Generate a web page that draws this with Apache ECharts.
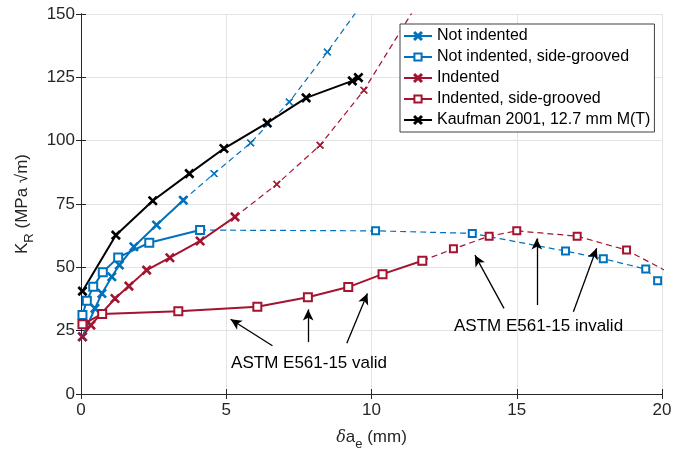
<!DOCTYPE html>
<html>
<head>
<meta charset="utf-8">
<script src="https://cdn.jsdelivr.net/npm/echarts@6/dist/echarts.min.js"></script>
<style>
html, body { margin: 0; padding: 0; background: #fff; }
#chart { width: 688px; height: 457px; }
</style>
</head>
<body>
<div id="chart"></div>
<script>
// measured points (mm, MPa√m)
var niX = [0.05, 0.48, 0.72, 1.06, 1.32, 1.82, 2.6, 3.52];
var niY = [22.6, 33.8, 39.7, 46.3, 50.9, 58.1, 66.7, 76.5];
var niDashX = [3.52, 4.58, 5.84, 7.17, 8.48, 9.8];
var niDashY = [76.5, 87, 99.1, 115.3, 135, 156];

var nisX = [0.05, 0.2, 0.42, 0.75, 1.28, 2.35, 4.1];
var nisY = [31.2, 36.8, 42.3, 48.1, 53.9, 59.7, 64.7];
var nisDashX = [4.1, 10.14, 13.47, 16.68, 17.98, 19.44, 19.85];
var nisDashY = [64.7, 64.4, 63.4, 56.4, 53.4, 49.3, 44.7];

var indX = [0.05, 0.34, 1.17, 1.65, 2.26, 3.06, 4.1, 5.3];
var indY = [22.6, 27.2, 37.7, 42.6, 48.9, 53.8, 60.4, 69.9];
var indDashX = [5.3, 6.74, 8.23, 9.74, 11.5];
var indDashY = [69.9, 82.8, 98.2, 119.9, 152.5];

var indsX = [0.05, 0.73, 3.35, 6.07, 7.81, 9.2, 10.38, 11.75];
var indsY = [27.5, 31.6, 32.7, 34.4, 38.2, 42.2, 47.3, 52.6];
var indsDashX = [11.75, 12.82, 14.05, 15.0, 17.08, 18.78, 20.4];
var indsDashY = [52.6, 57.3, 62.3, 64.4, 62.3, 56.8, 47];

var kaufX = [0.05, 1.2, 2.47, 3.73, 4.92, 6.41, 7.75, 9.34, 9.55];
var kaufY = [40.6, 62.7, 76.3, 87, 96.9, 107, 116.9, 123.6, 124.9];

var legendNames = ['Not indented', 'Not indented, side-grooved', 'Indented',
    'Indented, side-grooved', 'Kaufman 2001, 12.7 mm M(T)'];

// annotations: [x0, y0, x1, y1] arrow tail -> head
var validArrows = [[6.59, 19.05, 5.15, 29.5], [7.82, 20.5, 7.82, 33.4], [9.15, 20.0, 9.86, 39.7]];
var validText = ['ASTM E561-15 valid', 7.85, 12.2];
var invalidArrows = [[14.56, 33.8, 13.56, 54.8], [15.69, 35.1, 15.69, 61.4], [16.95, 32.5, 17.75, 57.5]];
var invalidText = ['ASTM E561-15 invalid', 15.75, 26.8];

var BLUE = '#0072BD', RED = '#A2142F', BLACK = '#000000';
var FONT = 'Liberation Sans';
var xMark = 'path://M0,1L1,0L5,4L9,0L10,1L6,5L10,9L9,10L5,6L1,10L0,9L4,5Z';

function pairs(xs, ys) {
    return xs.map(function (x, i) { return [x, ys[i]]; });
}

function solid(name, xs, ys, color, sym) {
    return {
        name: name, type: 'line', data: pairs(xs, ys),
        symbol: sym, symbolSize: 8,
        showAllSymbol: true,
        lineStyle: { color: color, width: 2 },
        itemStyle: { color: color, borderColor: color, borderWidth: 1.5 },
        z: 3, animation: false
    };
}

function dashed(name, xs, ys, color, sym) {
    return {
        name: name, type: 'line', data: pairs(xs, ys),
        symbol: sym, symbolSize: 7,
        showAllSymbol: true,
        lineStyle: { color: color, width: 1.2, type: [6, 4] },
        itemStyle: { color: color, borderColor: color, borderWidth: 1 },
        z: 2, animation: false
    };
}

function arrowLines(list) {
    return list.map(function (a) {
        return [{ coord: [a[0], a[1]] }, { coord: [a[2], a[3]] }];
    });
}

function textPoint(t) {
    return {
        coord: [t[1], t[2]], symbol: 'rect', symbolSize: 2,
        itemStyle: { color: 'rgba(0,0,0,0)' },
        label: {
            show: true, formatter: t[0], position: 'inside',
            color: '#000', fontFamily: FONT, fontSize: 17
        }
    };
}

var myChart = echarts.init(document.getElementById('chart'));

var axisLineStyle = { color: '#262626', width: 1 };

var option = {
    animation: false,
    textStyle: { fontFamily: FONT },
    grid: { left: 81, right: 26, top: 14, bottom: 63 },
    legend: {
        data: legendNames,
        orient: 'vertical',
        left: 400, top: 24,
        width: 250,
        padding: [4, 4, 4, 3],
        itemGap: 5,
        itemWidth: 28, itemHeight: 9,
        itemTextGap: 3,
        backgroundColor: '#fff',
        borderColor: '#404040', borderWidth: 1,
        textStyle: { fontFamily: FONT, fontSize: 16, color: '#000' }
    },
    xAxis: [{
        type: 'value', min: 0, max: 20, interval: 5,
        name: '{i|δ}a{sub|e} (mm)',
        nameLocation: 'middle', nameGap: 30,
        nameTextStyle: {
            fontFamily: FONT, fontSize: 17, color: '#262626',
            rich: {
                i: { fontFamily: 'DejaVu Serif', fontStyle: 'italic', fontSize: 16, color: '#262626' },
                sub: { fontSize: 13, verticalAlign: 'bottom', padding: [14, 0, 0, 0], color: '#262626' }
            }
        },
        axisLine: { show: true, lineStyle: axisLineStyle },
        axisTick: { show: true, inside: true, length: 5, lineStyle: axisLineStyle },
        axisLabel: { fontFamily: FONT, fontSize: 17, color: '#262626', margin: 8 },
        splitLine: { show: true, lineStyle: { color: '#e3e3e3', width: 1 } }
    }, {
        type: 'value', min: 0, max: 20, interval: 5, position: 'top',
        axisLine: { show: true, lineStyle: axisLineStyle },
        axisTick: { show: true, inside: true, length: 5, lineStyle: axisLineStyle },
        axisLabel: { show: false }, splitLine: { show: false }
    }],
    yAxis: [{
        type: 'value', min: 0, max: 150, interval: 25,
        name: 'K{sub|R} (MPa √m)',
        nameLocation: 'middle', nameGap: 45, nameRotate: 90,
        nameTextStyle: {
            fontFamily: FONT, fontSize: 17, color: '#262626',
            rich: { sub: { fontSize: 13, verticalAlign: 'bottom', padding: [14, 0, 0, 0], color: '#262626' } }
        },
        axisLine: { show: true, lineStyle: axisLineStyle },
        axisTick: { show: true, inside: true, length: 5, lineStyle: axisLineStyle },
        axisLabel: { fontFamily: FONT, fontSize: 17, color: '#262626', margin: 6 },
        splitLine: { show: true, lineStyle: { color: '#e3e3e3', width: 1 } }
    }, {
        type: 'value', min: 0, max: 150, interval: 25, position: 'right',
        axisLine: { show: true, lineStyle: axisLineStyle },
        axisTick: { show: true, inside: true, length: 5, lineStyle: axisLineStyle },
        axisLabel: { show: false }, splitLine: { show: false }
    }],
    series: [
        dashed('ni-dash', niDashX, niDashY, BLUE, xMark),
        dashed('nis-dash', nisDashX, nisDashY, BLUE, 'emptyRect'),
        dashed('ind-dash', indDashX, indDashY, RED, xMark),
        dashed('inds-dash', indsDashX, indsDashY, RED, 'emptyRect'),
        solid(legendNames[0], niX, niY, BLUE, xMark),
        solid(legendNames[1], nisX, nisY, BLUE, 'emptyRect'),
        solid(legendNames[2], indX, indY, RED, xMark),
        solid(legendNames[3], indsX, indsY, RED, 'emptyRect'),
        solid(legendNames[4], kaufX, kaufY, BLACK, xMark),
        {
            name: 'annotations', type: 'scatter', data: [], silent: true,
            markLine: {
                silent: true, animation: false,
                symbol: ['none', 'arrow'], symbolSize: [8, 11],
                lineStyle: { color: '#000', width: 1.3, type: 'solid' },
                label: { show: false },
                data: arrowLines(validArrows).concat(arrowLines(invalidArrows))
            },
            markPoint: {
                silent: true, animation: false,
                data: [textPoint(validText), textPoint(invalidText)]
            }
        }
    ]
};

myChart.setOption(option);
window.addEventListener('resize', function () { myChart.resize(); });
</script>
</body>
</html>
